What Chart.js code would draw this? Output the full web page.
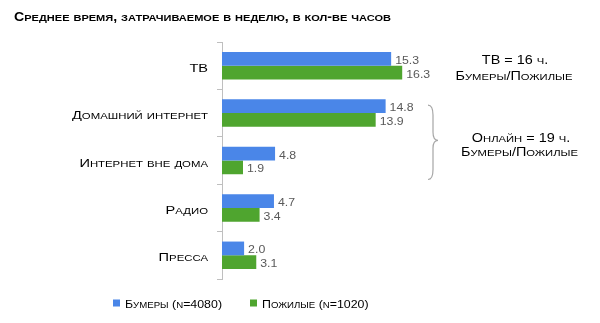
<!DOCTYPE html>
<html>
<head>
<meta charset="utf-8">
<script src="https://cdn.jsdelivr.net/npm/chart.js@4/dist/chart.umd.min.js"></script>
<style>
  html, body { margin: 0; padding: 0; background: #fff; }
  #wrap { width: 600px; height: 323px; }
</style>
</head>
<body>
<div id="wrap"><canvas id="c" width="600" height="323"></canvas></div>
<script>
// Weekly media time, hours
const categories = ['ТВ', 'Домашний интернет', 'Интернет вне дома', 'Радио', 'Пресса'];
const boomers = [15.3, 14.8, 4.8, 4.7, 2.0];
const seniors = [16.3, 13.9, 1.9, 3.4, 3.1];
const seriesNames = ['Бумеры (n=4080)', 'Пожилые (n=1020)'];
const titleText = 'Среднее время, затрачиваемое в неделю, в кол-ве часов';
const noteTv = ['ТВ = 16 ч.', 'Бумеры/Пожилые'];
const noteOnline = ['Онлайн = 19 ч.', 'Бумеры/Пожилые'];

const FAMILY = '"Liberation Sans", Arial, sans-serif';
const BLUE = '#4a86e8';
const GREEN = '#4fa52f';
const SC_RATIO = 0.78;

// Split text into runs: lowercase letters become reduced capitals
function scRuns(text) {
  const runs = [];
  for (const ch of text) {
    const small = ch !== ch.toUpperCase();
    const last = runs[runs.length - 1];
    if (last && last.small === small) last.t += ch;
    else runs.push({ small, t: ch });
  }
  runs.forEach(r => { if (r.small) r.t = r.t.toUpperCase(); });
  return runs;
}

function scFont(style, size, small) {
  return style + ' ' + (small ? size * SC_RATIO : size) + 'px ' + FAMILY;
}

function scWidth(ctx, text, style, size) {
  let w = 0;
  scRuns(text).forEach(r => { ctx.font = scFont(style, size, r.small); w += ctx.measureText(r.t).width; });
  return w;
}

// Small-caps text with a horizontal stretch
function scText(ctx, text, x, y, style, size, sx, align, color) {
  ctx.save();
  const w = scWidth(ctx, text, style, size);
  ctx.fillStyle = color;
  ctx.textAlign = 'left';
  ctx.textBaseline = 'alphabetic';
  ctx.translate(x, y);
  ctx.scale(sx, 1);
  let cx = align === 'right' ? -w : align === 'center' ? -w / 2 : 0;
  scRuns(text).forEach(r => {
    ctx.font = scFont(style, size, r.small);
    ctx.fillText(r.t, cx, 0);
    cx += ctx.measureText(r.t).width;
  });
  ctx.restore();
}

function plainText(ctx, text, x, y, font, sx, color) {
  ctx.save();
  ctx.font = font;
  ctx.fillStyle = color;
  ctx.textAlign = 'left';
  ctx.textBaseline = 'alphabetic';
  ctx.translate(x, y);
  ctx.scale(sx, 1);
  ctx.fillText(text, 0, 0);
  ctx.restore();
}

// Title, category labels, value labels, legend, side notes and the brace
const extras = {
  id: 'extras',
  afterDraw(chart) {
    const ctx = chart.ctx;
    const y = chart.scales.y;

    // title
    const tSx = 377 / scWidth(ctx, titleText, 'bold', 12);
    scText(ctx, titleText, 14, 20.5, 'bold', 12, tSx, 'left', '#000');

    // category labels
    const lSx = 136 / scWidth(ctx, categories[1], 'normal', 11.5);
    categories.forEach((c, i) => {
      scText(ctx, c, 208, y.getPixelForTick(i) + 6, 'normal', 11.5, lSx, 'right', '#000');
    });

    // value labels
    chart.data.datasets.forEach((ds, i) => {
      chart.getDatasetMeta(i).data.forEach((bar, j) => {
        plainText(ctx, ds.data[j].toFixed(1), bar.x + 4, bar.y + 5, '11px ' + FAMILY, 1.12, '#595959');
      });
    });

    // legend
    const legendX = [113, 250];
    const gSx = 97 / scWidth(ctx, seriesNames[0], 'normal', 10.5);
    chart.data.datasets.forEach((ds, i) => {
      ctx.fillStyle = ds.backgroundColor;
      ctx.fillRect(legendX[i], 299.5, 7, 7);
      scText(ctx, ds.label, legendX[i] + 12, 307.5, 'normal', 10.5, gSx, 'left', '#000');
    });

    // side notes
    const nSx = 117 / scWidth(ctx, noteTv[1], 'normal', 12.5);
    scText(ctx, noteTv[0], 515, 63.5, 'normal', 12.5, nSx, 'center', '#000');
    scText(ctx, noteTv[1], 514, 79.5, 'normal', 12.5, nSx, 'center', '#000');
    scText(ctx, noteOnline[0], 521, 141.5, 'normal', 12.5, nSx, 'center', '#000');
    scText(ctx, noteOnline[1], 519.5, 156, 'normal', 12.5, nSx, 'center', '#000');

    // brace spanning the two internet rows
    const top = y.getPixelForTick(1) - 8;
    const bot = y.getPixelForTick(2) + 19;
    const tip = (top + bot) / 2 - 2;
    const bx = 428;
    ctx.save();
    ctx.strokeStyle = '#a6a6a6';
    ctx.lineWidth = 1.2;
    ctx.beginPath();
    ctx.moveTo(bx, top);
    ctx.quadraticCurveTo(bx + 5, top, bx + 5, top + 10);
    ctx.lineTo(bx + 5, tip - 8);
    ctx.quadraticCurveTo(bx + 5, tip, bx + 10, tip);
    ctx.quadraticCurveTo(bx + 5, tip, bx + 5, tip + 8);
    ctx.lineTo(bx + 5, bot - 10);
    ctx.quadraticCurveTo(bx + 5, bot, bx, bot);
    ctx.stroke();
    ctx.restore();
  }
};

new Chart(document.getElementById('c'), {
  type: 'bar',
  data: {
    labels: categories,
    datasets: [
      { label: seriesNames[0], data: boomers, backgroundColor: BLUE },
      { label: seriesNames[1], data: seniors, backgroundColor: GREEN }
    ]
  },
  options: {
    indexAxis: 'y',
    responsive: false,
    animation: false,
    devicePixelRatio: 1,
    categoryPercentage: 0.58,
    barPercentage: 1.0,
    layout: { padding: { top: 42, left: 54, right: 179, bottom: 44 } },
    scales: {
      x: {
        min: 0,
        max: 18,
        display: false
      },
      y: {
        afterFit(scale) { scale.width = 168; },
        border: { display: true, color: '#bfbfbf' },
        grid: {
          offset: true,
          drawOnChartArea: false,
          drawTicks: true,
          tickLength: 5,
          color: '#bfbfbf'
        },
        ticks: { display: false }
      }
    },
    plugins: {
      title: { display: false },
      tooltip: { enabled: false },
      legend: { display: false }
    }
  },
  plugins: [extras]
});
</script>
</body>
</html>
